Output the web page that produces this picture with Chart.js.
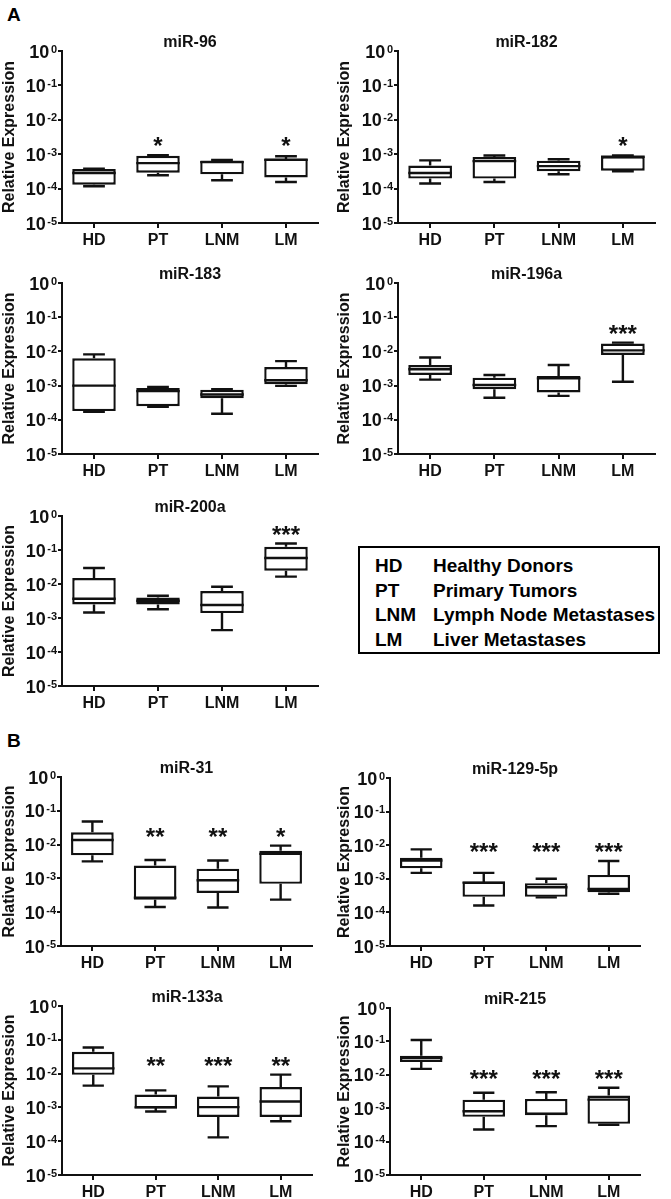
<!DOCTYPE html>
<html>
<head>
<meta charset="utf-8">
<script src="https://cdn.jsdelivr.net/npm/chart.js@4.4.1/dist/chart.umd.min.js"></script>
<style>
body{margin:0;background:#fff;width:671px;height:1199px;position:relative;overflow:hidden;font-family:"Liberation Sans",Arial,sans-serif;color:#000;}
canvas{position:absolute;}
.tag{position:absolute;left:7px;font-weight:bold;font-size:19px;}
#legend{position:absolute;left:358px;top:546px;width:298px;height:104px;border:2px solid #000;font-weight:bold;font-size:19px;}
#legend div{position:absolute;height:25px;line-height:25px;white-space:nowrap;}
</style>
</head>
<body>
<div class="tag" style="top:4px">A</div>
<div class="tag" style="top:730px">B</div>
<div id="legend"></div>
<script>
// groups and their full names
var categories = ['HD', 'PT', 'LNM', 'LM'];
var categoryNames = ['Healthy Donors', 'Primary Tumors', 'Lymph Node Metastases', 'Liver Metastases'];

// y axis ticks (log scale): value, and the exponent written after "10"
var yTickValues = [1e-5, 1e-4, 1e-3, 1e-2, 1e-1, 1];
var yTickExponents = ['-5', '-4', '-3', '-2', '-1', '0'];

// box plot values: whisker min, Q1, median, Q3, whisker max
var miR96 = {
  min:    [1.17e-4, 2.45e-4, 1.75e-4, 1.56e-4],
  q1:     [1.3e-4, 2.9e-4, 2.6e-4, 2.1e-4],
  median: [2.85e-4, 5.5e-4, 5.9e-4, 6.9e-4],
  q3:     [3.7e-4, 9.0e-4, 6.6e-4, 7.4e-4],
  max:    [3.8e-4, 9.3e-4, 6.8e-4, 8.7e-4]
};
var miR96Stars = ['', '*', '', '*'];

var miR182 = {
  min:    [1.4e-4, 1.56e-4, 2.6e-4, 3.2e-4],
  q1:     [1.95e-4, 1.95e-4, 3.2e-4, 3.3e-4],
  median: [2.85e-4, 6.3e-4, 4.5e-4, 8.4e-4],
  q3:     [4.7e-4, 8.3e-4, 6.5e-4, 8.7e-4],
  max:    [6.6e-4, 9.2e-4, 7.1e-4, 9.2e-4]
};
var miR182Stars = ['', '', '', '*'];

var miR183 = {
  min:    [1.7e-4, 2.4e-4, 1.5e-4, 9.8e-4],
  q1:     [1.8e-4, 2.5e-4, 4.3e-4, 1.1e-3],
  median: [1.0e-3, 6.9e-4, 5.5e-4, 1.43e-3],
  q3:     [6.3e-3, 8.5e-4, 7.5e-4, 3.5e-3],
  max:    [8.2e-3, 9.1e-4, 7.9e-4, 5.2e-3]
};
var miR183Stars = ['', '', '', ''];

var miR196a = {
  min:    [1.5e-3, 4.4e-4, 5.0e-4, 1.3e-3],
  q1:     [2.04e-3, 7.8e-4, 6.3e-4, 7.9e-3],
  median: [3.0e-3, 1.04e-3, 1.63e-3, 1.07e-2],
  q3:     [4.0e-3, 1.7e-3, 1.9e-3, 1.7e-2],
  max:    [6.6e-3, 2.04e-3, 4.0e-3, 1.8e-2]
};
var miR196aStars = ['', '', '', '***'];

var miR200a = {
  min:    [1.45e-3, 1.8e-3, 4.4e-4, 1.65e-2],
  q1:     [2.5e-3, 2.5e-3, 1.4e-3, 2.46e-2],
  median: [3.7e-3, 3.2e-3, 2.4e-3, 5.8e-2],
  q3:     [1.5e-2, 4.0e-3, 6.2e-3, 0.124],
  max:    [2.95e-2, 4.5e-3, 8.3e-3, 0.155]
};
var miR200aStars = ['', '', '', '***'];

var miR31 = {
  min:    [3.2e-3, 1.43e-4, 1.38e-4, 2.35e-4],
  q1:     [4.8e-3, 2.35e-4, 3.7e-4, 6.9e-4],
  median: [1.37e-2, 2.7e-4, 8.8e-4, 5.3e-3],
  q3:     [2.3e-2, 2.4e-3, 1.94e-3, 6.6e-3],
  max:    [4.8e-2, 3.5e-3, 3.4e-3, 9.3e-3]
};
var miR31Stars = ['', '**', '**', '*'];

var miR129 = {
  min:    [1.5e-3, 1.6e-4, 2.8e-4, 3.6e-4],
  q1:     [2.05e-3, 2.9e-4, 2.9e-4, 4.0e-4],
  median: [3.5e-3, 7.7e-4, 5.6e-4, 5.0e-4],
  q3:     [4.2e-3, 8.3e-4, 7.4e-4, 1.3e-3],
  max:    [7.5e-3, 1.5e-3, 1.0e-3, 3.4e-3]
};
var miR129Stars = ['', '***', '***', '***'];

var miR133a = {
  min:    [4.4e-3, 7.6e-4, 1.3e-4, 3.9e-4],
  q1:     [9.2e-3, 9.3e-4, 5.2e-4, 5.2e-4],
  median: [1.43e-2, 1.0e-3, 1.02e-3, 1.5e-3],
  q3:     [4.4e-2, 2.4e-3, 2.1e-3, 4.0e-3],
  max:    [5.9e-2, 3.2e-3, 4.2e-3, 9.3e-3]
};
var miR133aStars = ['', '**', '***', '**'];

var miR215 = {
  min:    [1.5e-2, 2.3e-4, 2.9e-4, 3.2e-4],
  q1:     [2.4e-2, 5.5e-4, 6.2e-4, 3.4e-4],
  median: [3.2e-2, 8.1e-4, 6.9e-4, 1.8e-3],
  q3:     [3.7e-2, 1.8e-3, 1.9e-3, 2.4e-3],
  max:    [0.11, 2.9e-3, 3.0e-3, 4.1e-3]
};
var miR215Stars = ['', '***', '***', '***'];

// where each panel sits on the page (plot area edges in px)
var panels = [
  {title: 'miR-96',     stats: miR96,   stars: miR96Stars,   col: 0,   top: 50,   bottom: 223,  left: 62,  right: 318},
  {title: 'miR-182',    stats: miR182,  stars: miR182Stars,  col: 335, top: 50,   bottom: 223,  left: 398, right: 655},
  {title: 'miR-183',    stats: miR183,  stars: miR183Stars,  col: 0,   top: 282,  bottom: 454,  left: 62,  right: 318},
  {title: 'miR-196a',   stats: miR196a, stars: miR196aStars, col: 335, top: 282,  bottom: 454,  left: 398, right: 655},
  {title: 'miR-200a',   stats: miR200a, stars: miR200aStars, col: 0,   top: 515,  bottom: 686,  left: 62,  right: 318},
  {title: 'miR-31',     stats: miR31,   stars: miR31Stars,   col: 0,   top: 776,  bottom: 946,  left: 61,  right: 312},
  {title: 'miR-129-5p', stats: miR129,  stars: miR129Stars,  col: 335, top: 777,  bottom: 946,  left: 390, right: 640},
  {title: 'miR-133a',   stats: miR133a, stars: miR133aStars, col: 0,   top: 1005, bottom: 1175, left: 62,  right: 312},
  {title: 'miR-215',    stats: miR215,  stars: miR215Stars,  col: 335, top: 1007, bottom: 1175, left: 390, right: 640}
];

var FONT = '"Liberation Sans", Arial, sans-serif';
var INK = '#111';
var LW = 2.4;

// legend box
var lg = document.getElementById('legend');
categories.forEach(function (c, i) {
  var a = document.createElement('div');
  a.style.left = '15px'; a.style.top = (5 + i * 24.7) + 'px';
  a.textContent = c;
  var b = document.createElement('div');
  b.style.left = '73px'; b.style.top = (5 + i * 24.7) + 'px';
  b.textContent = categoryNames[i];
  lg.appendChild(a); lg.appendChild(b);
});

// whiskers, caps, median, stars and the 10^n tick labels
function whiskerPlugin(st, stars) {
  return {
    id: 'whiskers',
    afterDatasetsDraw: function (chart) {
      var ctx = chart.ctx, y = chart.scales.y, meta = chart.getDatasetMeta(0);
      var starLine = Infinity;
      ctx.save();
      ctx.strokeStyle = INK;
      ctx.lineWidth = LW;
      meta.data.forEach(function (bar, i) {
        var x = bar.x, half = bar.width / 2, cap = bar.width / 4;
        var pMin = y.getPixelForValue(st.min[i]);
        var pQ1 = y.getPixelForValue(st.q1[i]);
        var pMed = y.getPixelForValue(st.median[i]);
        var pQ3 = y.getPixelForValue(st.q3[i]);
        var pMax = y.getPixelForValue(st.max[i]);
        ctx.beginPath();
        ctx.moveTo(x, pQ3); ctx.lineTo(x, pMax);
        ctx.moveTo(x - cap, pMax); ctx.lineTo(x + cap, pMax);
        ctx.moveTo(x, pQ1); ctx.lineTo(x, pMin);
        ctx.moveTo(x - cap, pMin); ctx.lineTo(x + cap, pMin);
        ctx.moveTo(x - half, pMed); ctx.lineTo(x + half, pMed);
        ctx.stroke();
        if (stars[i]) starLine = Math.min(starLine, pMax);
      });
      ctx.fillStyle = INK;
      ctx.font = 'bold 24px ' + FONT;
      ctx.textAlign = 'center';
      ctx.textBaseline = 'alphabetic';
      meta.data.forEach(function (bar, i) {
        if (stars[i]) ctx.fillText(stars[i], bar.x, starLine - 1);
      });
      ctx.restore();
    },
    afterDraw: function (chart) {
      var ctx = chart.ctx, y = chart.scales.y;
      var right = chart.chartArea.left - 5;
      ctx.save();
      ctx.fillStyle = INK;
      ctx.textAlign = 'right';
      ctx.textBaseline = 'alphabetic';
      yTickValues.forEach(function (v, i) {
        var py = y.getPixelForValue(v);
        ctx.font = 'bold 11px ' + FONT;
        var ew = ctx.measureText(yTickExponents[i]).width;
        ctx.fillText(yTickExponents[i], right, py + 1.5);
        ctx.font = 'bold 18px ' + FONT;
        ctx.fillText('10', right - ew - 1.5, py + 6.5);
      });
      ctx.restore();
    }
  };
}

panels.forEach(function (p) {
  var canvas = document.createElement('canvas');
  var padTop = 3, titleH = 15, xh = 30;
  var cTop = p.top - titleH - padTop;
  var h = p.bottom - cTop + xh + 2;
  var yw = p.left - p.col;
  canvas.width = 335; canvas.height = h;
  canvas.style.left = p.col + 'px';
  canvas.style.top = cTop + 'px';
  canvas.style.width = '335px';
  canvas.style.height = h + 'px';
  document.body.appendChild(canvas);

  new Chart(canvas.getContext('2d'), {
    type: 'bar',
    data: {
      labels: categories,
      datasets: [{
        data: p.stats.q1.map(function (v, i) { return [v, p.stats.q3[i]]; }),
        backgroundColor: '#fff',
        borderColor: INK,
        borderWidth: LW,
        borderSkipped: false,
        barPercentage: 0.68,
        categoryPercentage: 1
      }]
    },
    options: {
      responsive: false,
      animation: false,
      devicePixelRatio: 1,
      layout: {padding: {top: padTop, left: 0, right: p.col + 335 - p.right, bottom: 2}},
      plugins: {
        legend: {display: false},
        tooltip: {enabled: false},
        title: {
          display: true, text: p.title, color: INK, fullSize: false,
          font: {family: FONT, size: 16, weight: 'bold', lineHeight: 1},
          padding: {top: 0, bottom: 0}
        }
      },
      scales: {
        x: {
          type: 'category',
          offset: true,
          border: {display: true, color: INK, width: 2},
          grid: {display: true, drawOnChartArea: false, drawTicks: true, tickLength: 5, offset: false, color: INK, lineWidth: 2},
          ticks: {color: INK, padding: 3, font: {family: FONT, size: 16, weight: 'bold'}, maxRotation: 0},
          afterFit: function (s) { s.height = xh; }
        },
        y: {
          type: 'logarithmic',
          min: 1e-5, max: 1,
          border: {display: true, color: INK, width: 2},
          grid: {display: true, drawOnChartArea: false, drawTicks: true, tickLength: 4, color: INK, lineWidth: 2},
          afterBuildTicks: function (s) {
            s.ticks = yTickValues.map(function (v) { return {value: v}; });
          },
          ticks: {display: false},
          title: {
            display: true, text: 'Relative Expression', color: INK,
            font: {family: FONT, size: 16, weight: 'bold'}, padding: 0
          },
          afterFit: function (s) { s.width = yw; }
        }
      }
    },
    plugins: [whiskerPlugin(p.stats, p.stars)]
  });
});
</script>
</body>
</html>
